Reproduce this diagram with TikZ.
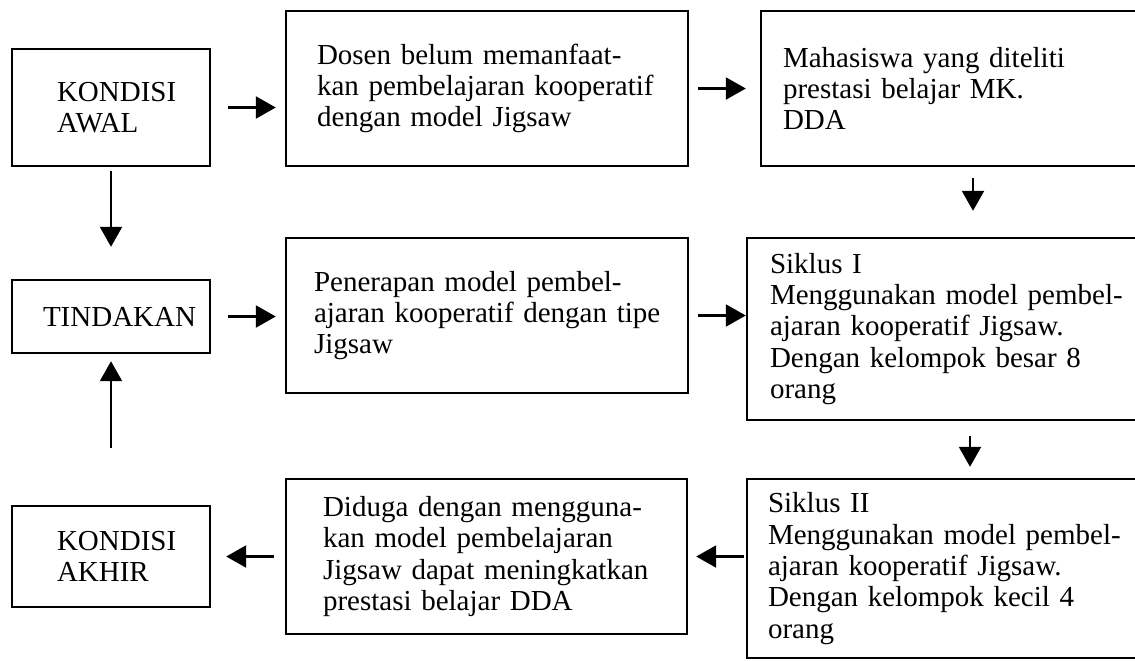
\documentclass[tikz,border=0pt]{standalone}
\usepackage{fontspec}
\setmainfont{Liberation Serif}
\usetikzlibrary{arrows.meta,calc}

\begin{document}
\begin{tikzpicture}[
  x=0.5pt,y=-0.5pt,
  kotak/.style={rectangle,draw=black,line width=1.2pt,align=left,inner ysep=0pt,
    font=\fontsize{14.5}{15.7}\selectfont,
    execute at begin node={\hyphenpenalty=10000 }},
  panah/.style={-{Triangle[length=10pt,width=11pt]},line width=1.1pt},
  ]
  \useasboundingbox (0,0) rectangle (1135,660);
  \clip (0,0) rectangle (1135,660);

  %left column
  \node (awal) [kotak,text width=54pt,inner xsep=22.5pt,minimum height=58.5pt] at (111,107.5) {KONDISI\\AWAL};
  \node (tindakan) [kotak,text width=68pt,inner xsep=15.5pt,minimum height=36.5pt] at (111,316.5) {TINDAKAN};
  \node (akhir) [kotak,text width=54pt,inner xsep=22.5pt,minimum height=50.5pt] at (111,556.5) {KONDISI\\AKHIR};

  %middle column
  \node (dosen) [kotak,text width=170pt,inner xsep=15.5pt,minimum height=77.5pt] at (487,88.5)
    {Dosen belum memanfaat-\\kan~pembelajaran~kooperatif\\dengan model Jigsaw};
  \node (penerapan) [kotak,text width=173pt,inner xsep=14pt,minimum height=77.5pt] at (487,315.5)
    {Penerapan model pembel-\\ajaran~kooperatif~dengan~tipe\\Jigsaw};
  \node (diduga) [kotak,text width=163.5pt,inner xsep=18.5pt,minimum height=77.5pt] at (486.5,556.5)
    {Diduga~dengan~mengguna-\\kan model pembelajaran\\Jigsaw~dapat~meningkatkan\\prestasi belajar DDA};

  %right column
  \node (mhs) [kotak,text width=190pt,inner xsep=11pt,minimum height=77.5pt] at (973,88.5)
    {Mahasiswa yang diteliti\\prestasi belajar MK.\\DDA};
  \node (siklus1) [kotak,text width=200pt,inner xsep=11.5pt,minimum height=91pt] at (970,329)
    {Siklus I\\Menggunakan model pembel-\\ajaran kooperatif Jigsaw.\\Dengan kelompok besar 8\\orang};
  \node (siklus2) [kotak,text width=202pt,inner xsep=10.5pt,minimum height=89.5pt] at (970,568.5)
    {Siklus II\\Menggunakan model pembel-\\ajaran kooperatif Jigsaw.\\Dengan kelompok kecil 4\\orang};

  %arrows
  \draw[panah,shorten <=8.5pt,shorten >=4.5pt] (awal.east) -- (awal.east -| dosen.west);
  \draw[panah,shorten <=4.5pt,shorten >=7pt] (dosen.east) -- (mhs.west);
  \draw[panah,shorten <=5.5pt,shorten >=13pt] (mhs.south) -- (mhs.south |- siklus1.north);
  \draw[panah,shorten <=2pt,shorten >=16pt] (awal.south) -- (tindakan.north);
  \draw[panah,shorten <=8.5pt,shorten >=4.5pt] (tindakan.east) -- (tindakan.east -| penerapan.west);
  \draw[panah,shorten <=4.5pt] (penerapan.east) -- (penerapan.east -| siklus1.west);
  \draw[panah,shorten <=7.5pt,shorten >=5.5pt] (siklus1.south) -- (siklus2.north);
  \draw[panah,shorten <=1pt,shorten >=4pt] (diduga.east -| siklus2.west) -- (diduga.east);
  \draw[panah,shorten <=5.5pt,shorten >=7.5pt] (diduga.west) -- (akhir.east);
  \draw[panah,shorten <=28.5pt,shorten >=3.5pt] (akhir.north) -- (tindakan.south);

\end{tikzpicture}
\end{document}
